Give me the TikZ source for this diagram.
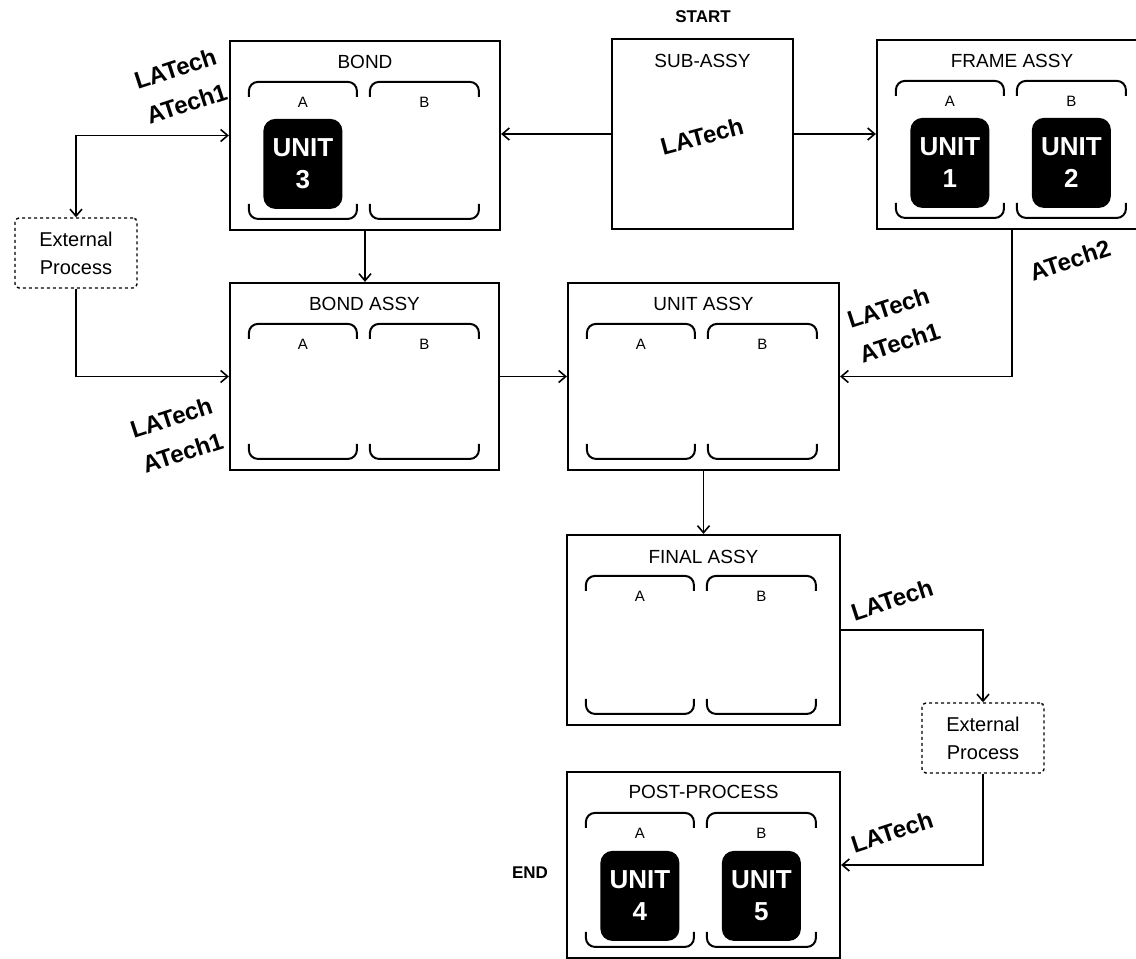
\documentclass[tikz,border=0pt]{standalone}
\usepackage{fontspec}
\setmainfont{Liberation Sans}
\usetikzlibrary{arrows.meta,calc}
\newcommand\fs[2]{\fontsize{#1}{#2}\selectfont}
\newcommand\panel[2]{%
 \begin{scope}[shift={(#1.north west)}]
  \foreach \a/\b in {20/128,141/250}{
   \draw[brk] (\a,57) -- (\a,42) -- (\b,42) -- (\b,57);
   \draw[brk] (\a,#2-25) -- (\a,#2-10) -- (\b,#2-10) -- (\b,#2-25);}
  \node[lett] (#1A) at (74,62) {A};
  \node[lett] (#1B) at (195.5,62) {B};
 \end{scope}}
\begin{document}
\begin{tikzpicture}[x=1pt,y=-1pt,
 box/.style={draw, line width=2.2pt, inner sep=0pt},
 title/.style={font=\fs{19}{22}},
 lett/.style={font=\fs{15}{18}},
 brk/.style={line width=2pt, rounded corners=9pt},
 unit/.style={fill=black, rounded corners=12pt, minimum width=79pt, minimum height=90pt, text=white, font=\bfseries\fs{26}{32}, align=center, inner sep=0pt},
 ext/.style={draw, dashed, line width=1.4pt, rounded corners=4pt, minimum width=122pt, minimum height=70pt, align=center, font=\fs{20}{28}},
 hand/.style={font=\bfseries\fs{24}{37}, rotate=18, align=center},
 lbl/.style={font=\bfseries\fs{17}{20}},
 conn/.style={line width=1.6pt, -{Straight Barb[length=7pt,width=12pt]}},
 conn2/.style={line width=1.6pt, {Straight Barb[length=7pt,width=12pt]}-{Straight Barb[length=7pt,width=12pt]}}]
\useasboundingbox (0,0) rectangle (1136,959);
\clip (0,0) rectangle (1136,959);

% boxes
\node[box, minimum width=270pt, minimum height=189pt] (bond) at (365,135.5) {};
\node[box, minimum width=181pt, minimum height=190pt] (sub) at (702.5,134) {};
\node[box, minimum width=270pt, minimum height=189pt] (frame) at (1012,134.5) {};
\node[box, minimum width=269pt, minimum height=187pt] (bondassy) at (364.5,376.5) {};
\node[box, minimum width=271pt, minimum height=187pt] (unitassy) at (703.5,376.5) {};
\node[box, minimum width=273pt, minimum height=190pt] (final) at (703.5,630) {};
\node[box, minimum width=273pt, minimum height=186pt] (post) at (703.5,865) {};

% titles
\node[title] (bondT) at ($(bond.north)+(0,22)$) {BOND};
\node[title] (subT) at ($(sub.north)+(0,23)$) {SUB-ASSY};
\node[title] (frameT) at ($(frame.north)+(0,22)$) {FRAME ASSY};
\node[title] (bondassyT) at ($(bondassy.north)+(0,22)$) {BOND ASSY};
\node[title] (unitassyT) at ($(unitassy.north)+(0,22)$) {UNIT ASSY};
\node[title] (finalT) at ($(final.north)+(0,23)$) {FINAL ASSY};
\node[title] (postT) at ($(post.north)+(0,21)$) {POST-PROCESS};

% brackets and letters
\panel{bond}{189}
\panel{frame}{189}
\panel{bondassy}{187}
\panel{unitassy}{187}
\panel{final}{190}
\panel{post}{186}

% units
\node[unit] (u3) at ($(bond.north west)+(74,124)$) {UNIT\\3};
\node[unit] (u1) at ($(frame.north west)+(74,124)$) {UNIT\\1};
\node[unit] (u2) at ($(frame.north west)+(195.5,124)$) {UNIT\\2};
\node[unit] (u4) at ($(post.north west)+(74,125)$) {UNIT\\4};
\node[unit] (u5) at ($(post.north west)+(195.5,125)$) {UNIT\\5};

% external processes
\node[ext] (ext1) at (76,253) {External\\Process};
\node[ext] (ext2) at (983,738) {External\\Process};

% start / end
\node[lbl] (start) at (703,17) {START};
\node[lbl] (end) at (530,873) {END};

% handwritten labels
\node[hand] (h1) at (181,86) {LATech\\ATech1};
\node[hand, rotate=-3] (h2) at (702,136) {LATech};
\node[hand] (h3) at (1070,260) {ATech2};
\node[hand] (h4) at (894,325) {LATech\\ATech1};
\node[hand] (h5) at (177,435) {LATech\\ATech1};
\node[hand] (h6) at (892,600) {LATech};
\node[hand] (h7) at (892,832) {LATech};

% connectors
\draw[conn] (sub.west) -- (sub.west -| bond.east);
\draw[conn] (sub.east) -- (sub.east -| frame.west);
\draw[conn] (bond.south) -- (bond.south |- bondassy.north);
\draw[conn2] (bond.west) -| (ext1.north);
\draw[conn] (ext1.south) |- (bondassy.west);
\draw[conn] (bondassy.east) -- (unitassy.west);
\draw[conn] (frame.south) |- (unitassy.east);
\draw[conn] (unitassy.south) -- (final.north);
\draw[conn] (final.east) -| (ext2.north);
\draw[conn] (ext2.south) |- (post.east);
\end{tikzpicture}
\end{document}
